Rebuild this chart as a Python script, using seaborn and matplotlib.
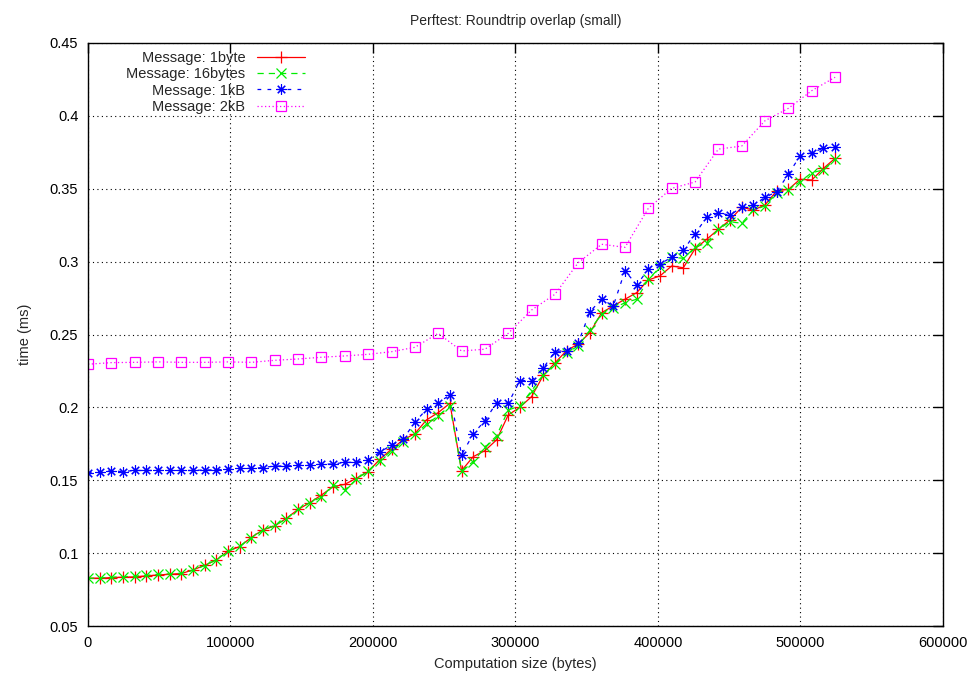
import matplotlib
matplotlib.use("Agg")
import matplotlib.pyplot as plt
import seaborn as sns
import pandas as pd

# Computation sizes (bytes): step of 8 KiB up to 512 KiB
STEP = 8192
sizes_small = [i * STEP for i in range(65)]
sizes_2kb = [i * 2 * STEP for i in range(33)]

time_1byte = [
    0.0828, 0.0828, 0.0832, 0.0835, 0.0837, 0.0844, 0.0850, 0.0855, 0.0860, 0.0885,
    0.0917, 0.0953, 0.1015, 0.1045, 0.1109, 0.1160, 0.1187, 0.1239, 0.1300, 0.1346,
    0.1399, 0.1456, 0.1472, 0.1514, 0.1559, 0.1644, 0.1713, 0.1777, 0.1820, 0.1914,
    0.1964, 0.2028, 0.1566, 0.1662, 0.1703, 0.1777, 0.1948, 0.2001, 0.2074, 0.2219,
    0.2305, 0.2390, 0.2435, 0.2513, 0.2650, 0.2696, 0.2742, 0.2787, 0.2874, 0.2902,
    0.2970, 0.2958, 0.3088, 0.3153, 0.3222, 0.3286, 0.3373, 0.3354, 0.3389, 0.3487,
    0.3496, 0.3565, 0.3560, 0.3640, 0.3709,
]

time_16bytes = [
    0.0826, 0.0830, 0.0835, 0.0838, 0.0842, 0.0848, 0.0855, 0.0858, 0.0862, 0.0882,
    0.0915, 0.0955, 0.1012, 0.1048, 0.1105, 0.1158, 0.1190, 0.1236, 0.1301, 0.1347,
    0.1383, 0.1468, 0.1434, 0.1507, 0.1566, 0.1635, 0.1703, 0.1765, 0.1815, 0.1886,
    0.1941, 0.2010, 0.1566, 0.1628, 0.1726, 0.1804, 0.1982, 0.2010, 0.2115, 0.2222,
    0.2298, 0.2376, 0.2421, 0.2531, 0.2641, 0.2680, 0.2718, 0.2742, 0.2879, 0.2961,
    0.3030, 0.3023, 0.3097, 0.3130, 0.3222, 0.3274, 0.3263, 0.3354, 0.3382, 0.3473,
    0.3492, 0.3549, 0.3610, 0.3629, 0.3702,
]

time_1kb = [
    0.1553, 0.1560, 0.1564, 0.1560, 0.1567, 0.1567, 0.1567, 0.1567, 0.1567, 0.1567,
    0.1571, 0.1571, 0.1575, 0.1582, 0.1582, 0.1587, 0.1598, 0.1598, 0.1603, 0.1605,
    0.1610, 0.1612, 0.1622, 0.1624, 0.1639, 0.1692, 0.1742, 0.1783, 0.1898, 0.1987,
    0.2032, 0.2085, 0.1674, 0.1818, 0.1909, 0.2032, 0.2028, 0.2184, 0.2184, 0.2270,
    0.2383, 0.2390, 0.2444, 0.2657, 0.2742, 0.2696, 0.2938, 0.2840, 0.2947, 0.2984,
    0.3030, 0.3078, 0.3192, 0.3304, 0.3332, 0.3320, 0.3373, 0.3389, 0.3441, 0.3480,
    0.3601, 0.3725, 0.3748, 0.3778, 0.3789,
]

time_2kb = [
    0.2296, 0.2307, 0.2309, 0.2312, 0.2309, 0.2309, 0.2312, 0.2309, 0.2323, 0.2332,
    0.2344, 0.2353, 0.2364, 0.2382, 0.2412, 0.2508, 0.2387, 0.2399, 0.2508, 0.2668,
    0.2776, 0.2993, 0.3119, 0.3098, 0.3366, 0.3503, 0.3546, 0.3772, 0.3793, 0.3967,
    0.4052, 0.4173, 0.4265,
]

labels = ["Message: 1byte", "Message: 16bytes", "Message: 1kB", "Message: 2kB"]
x_ticks = [0, 100000, 200000, 300000, 400000, 500000, 600000]
y_ticks = [0.05, 0.1, 0.15, 0.2, 0.25, 0.3, 0.35, 0.4, 0.45]
y_tick_labels = ["0.05", "0.1", "0.15", "0.2", "0.25", "0.3", "0.35", "0.4", "0.45"]

sns.set_style("white")
plt.rcParams["font.family"] = ["Liberation Sans", "DejaVu Sans"]

fig = plt.figure(figsize=(9.7, 6.75), dpi=100)
ax = fig.add_axes([88 / 970, 1 - 626 / 675, 855 / 970, 583 / 675])

series = [
    (sizes_small, time_1byte, labels[0], "#ff0000", "-", "+",
     dict(markersize=8, markeredgewidth=0.9)),
    (sizes_small, time_16bytes, labels[1], "#00ee00", (0, (5, 4)), "x",
     dict(markersize=6.5, markeredgewidth=0.9)),
    (sizes_small, time_1kb, labels[2], "#0000ff", (0, (3, 5)), (8, 2, 0),
     dict(markersize=7.5, markeredgewidth=0.8)),
    (sizes_2kb, time_2kb, labels[3], "#ff00ff", (0, (1, 2)), "s",
     dict(markersize=7, markeredgewidth=0.9, markerfacecolor="none")),
]

for xs, ys, lab, col, ls, mk, mkw in series:
    df = pd.DataFrame({"size": xs, "time": ys})
    sns.lineplot(data=df, x="size", y="time", ax=ax, color=col, linestyle=ls,
                 linewidth=0.9, marker=mk, markeredgecolor=col, label=lab,
                 **mkw)

ax.set_xlim(0, 600000)
ax.set_ylim(0.05, 0.45)
ax.set_xticks(x_ticks)
ax.set_xticklabels([str(t) for t in x_ticks])
ax.set_yticks(y_ticks)
ax.set_yticklabels(y_tick_labels)

ax.grid(True, color="black", linestyle=(0, (1, 3)), linewidth=0.8)
ax.tick_params(axis="both", direction="in", length=7, width=1, colors="black",
               labelsize=10.5, top=True, right=True, pad=7)
for s in ax.spines.values():
    s.set_color("black")
    s.set_linewidth(1.0)

ax.set_xlabel("Computation size (bytes)", fontsize=10.5, labelpad=5)
ax.set_ylabel("time (ms)", fontsize=10.5, labelpad=13)
ax.set_title("Perftest: Roundtrip overlap (small)", fontsize=10, pad=13)

leg = ax.legend(loc="upper right", bbox_to_anchor=(0.254, 0.986),
                markerfirst=False, frameon=False, fontsize=10.5,
                handlelength=3.3, handletextpad=0.8, labelspacing=0.15,
                borderpad=0, borderaxespad=0)

fig.savefig("out.png", dpi=100)
